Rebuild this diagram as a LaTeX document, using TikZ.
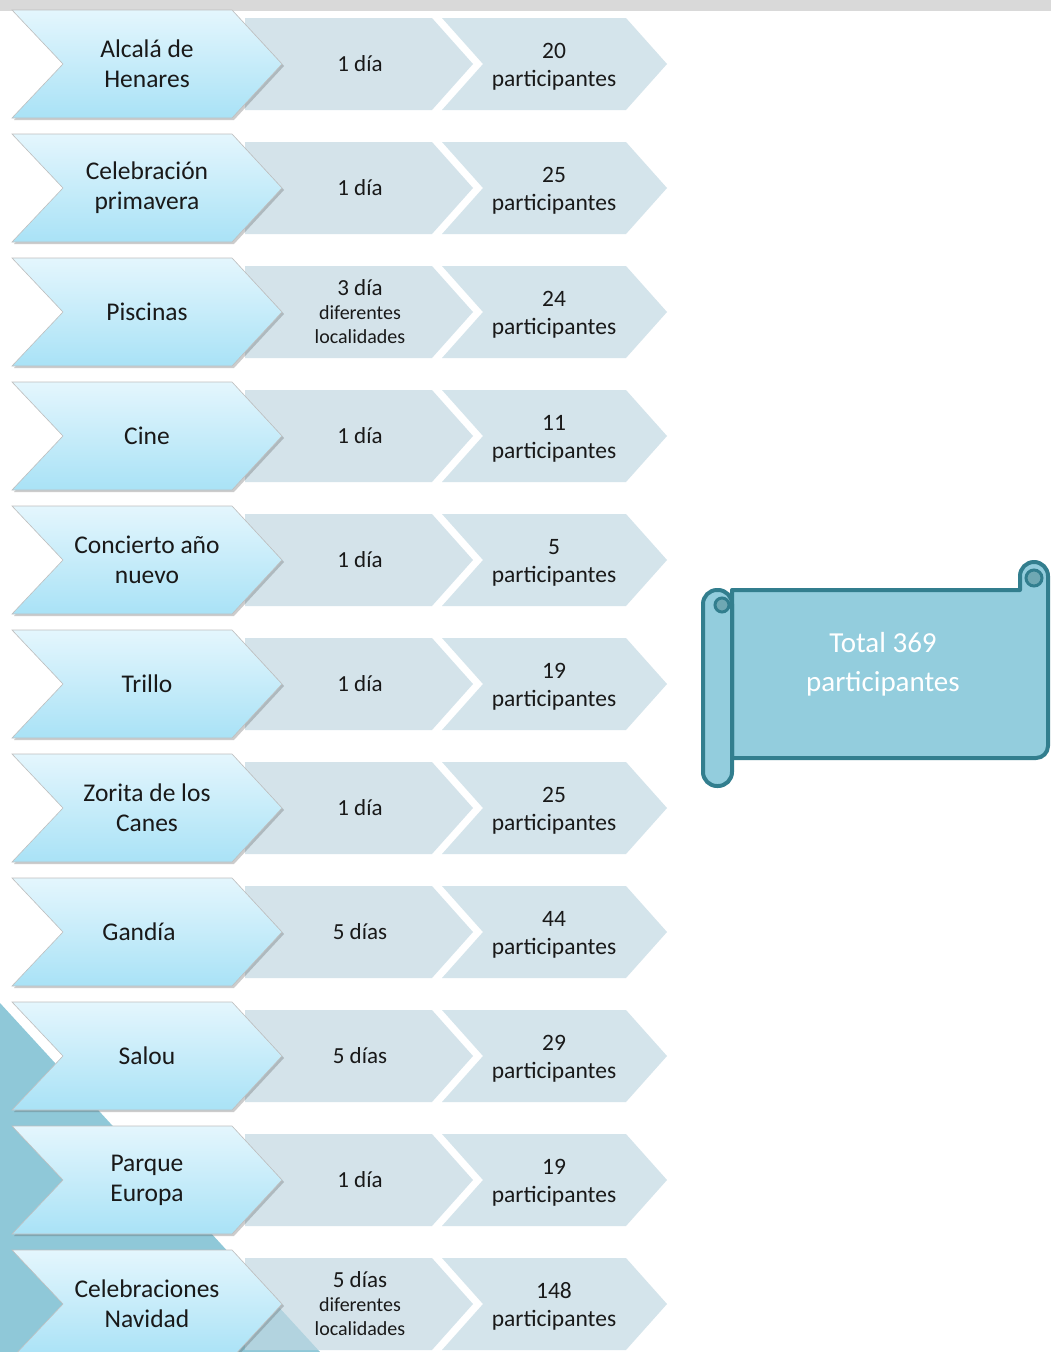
\documentclass[tikz,border=0pt]{standalone}
\usepackage{fontspec}
\setmainfont{Carlito}
\usetikzlibrary{shadows}
\definecolor{barg}{HTML}{D9D9D9}
\definecolor{chevtop}{HTML}{E4F6FD}
\definecolor{chevbot}{HTML}{A9E2F6}
\definecolor{midc}{RGB}{194,216,226}
\definecolor{thirdc}{HTML}{D4E4EB}
\definecolor{tealbg}{HTML}{8FC8D8}
\definecolor{scrollfill}{HTML}{93CDDD}
\definecolor{scrolldraw}{HTML}{327E8E}
\definecolor{curlfill}{HTML}{6FA8B3}
\newcommand\mbig[1]{{\fontsize{23}{24}\selectfont #1}}
\begin{document}
\begin{tikzpicture}[x=1pt,y=-1pt,
  bigchev/.style={top color=chevtop,bottom color=chevbot,draw=gray!50,line width=0.6pt,
    drop shadow={shadow xshift=2pt,shadow yshift=-2pt,opacity=0.3,fill=gray!70!black}},
  midchev/.style={fill=midc,fill opacity=0.7},
  thirdchev/.style={fill=thirdc},
  bigtxt/.style={font=\fontsize{25.5}{30}\selectfont,align=center,text=black!90,inner sep=0pt},
  midtxt/.style={font=\fontsize{20}{24}\selectfont,align=center,text=black!90,inner sep=0pt},
  thirdtxt/.style={font=\fontsize{23.5}{28}\selectfont,align=center,text=black!90,inner sep=0pt},
  scrollbody/.style={fill=scrollfill,draw=scrolldraw,line width=4pt,line join=round},
  curl/.style={fill=curlfill,draw=scrolldraw,line width=3pt},
  scrolltxt/.style={font=\fontsize{29}{39}\selectfont,align=center,text=white}
]
\useasboundingbox (0,0) rectangle (1051,1352);
\fill[white] (0,0) rectangle (1051,1352);
\fill[barg] (0,0) rectangle (1051,11);
\fill[tealbg] (0,1003) -- (320,1352) -- (0,1352) -- cycle;

\foreach \i/\name/\bx/\mid/\third in {
  0/{Alcalá de\\Henares}/147/{\mbig{1 día}}/{20},
  1/{Celebración\\primavera}/147/{\mbig{1 día}}/{25},
  2/{Piscinas}/147/{\mbig{3 día}\\diferentes\\localidades}/{24},
  3/{Cine}/147/{\mbig{1 día}}/{11},
  4/{Concierto año\\nuevo}/147/{\mbig{1 día}}/{5},
  5/{Trillo}/147/{\mbig{1 día}}/{19},
  6/{Zorita de los\\Canes}/147/{\mbig{1 día}}/{25},
  7/{Gandía}/139/{\mbig{5 días}}/{44},
  8/{Salou}/147/{\mbig{5 días}}/{29},
  9/{Parque\\Europa}/147/{\mbig{1 día}}/{19},
  10/{Celebraciones\\Navidad}/147/{\mbig{5 días}\\diferentes\\localidades}/{148}}
{
  \pgfmathsetmacro\yc{64+124*\i}
  \path[midchev] (245,{\yc-46}) -- (432,{\yc-46}) -- (473,\yc) -- (432,{\yc+46}) -- (245,{\yc+46}) -- cycle;
  \path[thirdchev] (442,{\yc-46}) -- (626,{\yc-46}) -- (667,\yc) -- (626,{\yc+46}) -- (442,{\yc+46}) -- (483,\yc) -- cycle;
  \path[bigchev] (12,{\yc-54}) -- (232,{\yc-54}) -- (282,\yc) -- (232,{\yc+54}) -- (12,{\yc+54}) -- (63,\yc) -- cycle;
  \node[bigtxt] (b\i) at (\bx,\yc) {\name};
  \node[midtxt] (m\i) at (360,\yc) {\mid};
  \node[thirdtxt] (t\i) at (554,{\yc+2.5}) {\third\\participantes};
}

% scroll
\path[scrollbody] (732,590) -- (1020,590) -- (1020,576) arc[start angle=180,end angle=360,radius=14]
  -- (1048,746) arc[start angle=0,end angle=90,radius=12] -- (732,758) -- cycle;
\path[curl] (1034,578) circle[radius=8];
\path[scrollbody,rounded corners=14pt] (703,590) rectangle (732,786);
\path[curl] (722,605) circle[radius=7];
\node[scrolltxt] (total) at (883,664) {Total 369\\participantes};
\end{tikzpicture}
\end{document}
